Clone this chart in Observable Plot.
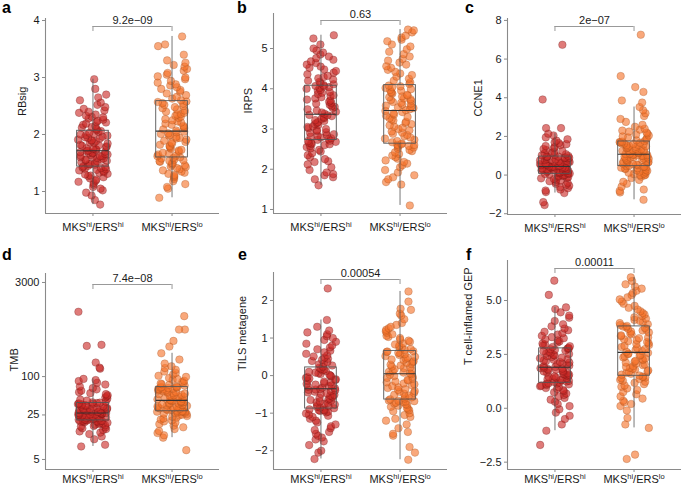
<!DOCTYPE html>
<html>
<head>
<meta charset="utf-8">
<script src="https://cdn.jsdelivr.net/npm/d3@7"></script>
<script src="https://cdn.jsdelivr.net/npm/@observablehq/plot@0.6"></script>
<style>
  html, body { margin: 0; padding: 0; background: #fff; }
  #fig { position: relative; width: 681px; height: 489px; overflow: hidden; font-family: 'Liberation Sans', Arial, Helvetica, sans-serif; }
  .letter { position: absolute; font-weight: bold; font-size: 16px; line-height: 16px; color: #000; }
  #fig svg { position: absolute; overflow: visible; }
</style>
</head>
<body>
<div id="fig"></div>
<script>
// ---------- data ----------
const groupLabels = ["MKS{hi}/ERS{hi}", "MKS{hi}/ERS{lo}"];
const panelLetters = ["a", "b", "c", "d", "e", "f"];
const yTitles = ["RBsig", "IRPS", "CCNE1", "TMB", "TILS metagene", "T cell-inflamed GEP"];
const pValues = ["9.2e\u221209", "0.63", "2e\u221207", "7.4e\u221208", "0.00054", "0.00011"];
const yTicksA = [1, 2, 3, 4];
const yTicksB = [1, 2, 3, 4, 5];
const yTicksC = [-2, 0, 2, 4, 6, 8];
const yTicksD = [5, 25, 100, 3000];
const yTicksE = [-2, -1, 0, 1, 2];
const yTicksF = [-2.5, 0, 2.5, 5];

const rbsigHiHi = [0.77,0.85,0.93,0.98,1.02,1.05,1.08,1.12,1.15,1.17,1.19,1.21,1.23,1.25,1.27,1.28,1.30,1.31,1.33,1.34,1.36,1.37,1.38,1.39,1.40,1.41,1.42,1.43,
  1.44,1.45,1.47,1.48,1.48,1.50,1.51,1.53,1.54,1.55,1.56,1.56,1.58,1.59,1.60,1.61,1.62,1.62,1.63,1.64,1.65,1.66,1.67,1.68,1.68,1.69,1.70,1.71,
  1.72,1.73,1.74,1.75,1.76,1.78,1.79,1.80,1.81,1.82,1.84,1.85,1.86,1.88,1.89,1.90,1.91,1.93,1.94,1.95,1.96,1.98,1.99,2.00,2.01,2.03,2.05,2.06,
  2.08,2.10,2.12,2.13,2.15,2.17,2.19,2.21,2.22,2.24,2.26,2.28,2.30,2.31,2.33,2.35,2.38,2.40,2.42,2.45,2.48,2.52,2.56,2.60,2.65,2.70,2.80,2.97];
const rbsigHiLo = [0.89,1.05,1.08,1.13,1.18,1.22,1.25,1.27,1.29,1.31,1.33,1.35,1.37,1.39,1.41,1.43,1.44,1.46,1.47,1.49,1.50,1.52,1.53,1.54,1.55,1.56,1.58,1.59,
  1.60,1.62,1.63,1.65,1.67,1.68,1.70,1.72,1.73,1.75,1.77,1.79,1.80,1.82,1.84,1.86,1.87,1.89,1.91,1.93,1.94,1.96,1.98,1.99,2.01,2.02,2.04,2.05,
  2.07,2.09,2.11,2.13,2.15,2.17,2.19,2.21,2.23,2.25,2.27,2.29,2.31,2.33,2.35,2.36,2.38,2.40,2.42,2.44,2.46,2.48,2.50,2.52,2.54,2.55,2.57,2.58,
  2.60,2.63,2.66,2.69,2.72,2.75,2.78,2.80,2.83,2.86,2.88,2.91,2.94,2.97,3.00,3.02,3.05,3.08,3.12,3.15,3.19,3.22,3.26,3.30,3.40,3.55,3.58,3.72];

const irpsHiHi = [1.60,1.75,1.80,1.85,1.88,1.92,1.98,2.05,2.12,2.18,2.20,2.25,2.30,2.35,2.40,2.44,2.48,2.52,2.55,2.58,2.60,2.62,2.63,2.65,2.66,2.68,2.70,2.71,
  2.73,2.75,2.77,2.79,2.81,2.83,2.85,2.87,2.90,2.92,2.95,2.97,3.00,3.02,3.05,3.07,3.10,3.12,3.15,3.17,3.20,3.22,3.25,3.27,3.30,3.32,3.34,3.35,
  3.38,3.41,3.43,3.46,3.49,3.52,3.55,3.57,3.60,3.63,3.65,3.68,3.71,3.73,3.76,3.79,3.82,3.84,3.87,3.90,3.92,3.95,3.97,4.00,4.02,4.04,4.06,4.07,
  4.09,4.11,4.14,4.17,4.20,4.23,4.26,4.29,4.32,4.36,4.40,4.44,4.48,4.52,4.55,4.60,4.64,4.68,4.72,4.76,4.80,4.85,4.90,4.95,5.00,5.10,5.25,5.33];
const irpsHiLo = [1.10,1.62,1.68,1.75,1.80,1.85,1.92,1.98,2.05,2.10,2.14,2.18,2.22,2.26,2.30,2.34,2.38,2.42,2.45,2.48,2.51,2.54,2.56,2.58,2.59,2.60,2.61,2.62,
  2.64,2.67,2.70,2.73,2.76,2.79,2.82,2.85,2.88,2.91,2.94,2.97,3.00,3.03,3.06,3.09,3.12,3.15,3.18,3.21,3.24,3.27,3.30,3.33,3.36,3.39,3.42,3.45,
  3.47,3.49,3.52,3.54,3.56,3.58,3.61,3.63,3.65,3.67,3.70,3.72,3.74,3.76,3.79,3.81,3.83,3.85,3.88,3.90,3.92,3.95,3.97,3.99,4.02,4.04,4.06,4.08,
  4.12,4.16,4.20,4.25,4.30,4.34,4.38,4.42,4.47,4.52,4.56,4.60,4.65,4.70,4.74,4.80,4.86,4.92,4.98,5.05,5.10,5.18,5.22,5.27,5.32,5.40,5.45,5.47];

const ccne1HiHi = [-1.55,-1.40,-0.93,-0.88,-0.80,-0.75,-0.68,-0.62,-0.55,-0.50,-0.45,-0.40,-0.36,-0.32,-0.28,-0.24,-0.20,-0.17,-0.14,-0.11,-0.08,-0.05,-0.03,-0.01,0.01,0.03,0.05,0.06,
  0.08,0.10,0.11,0.13,0.14,0.16,0.17,0.19,0.20,0.22,0.23,0.25,0.26,0.28,0.29,0.31,0.32,0.34,0.35,0.36,0.38,0.39,0.40,0.41,0.42,0.43,0.44,0.45,
  0.47,0.49,0.51,0.53,0.55,0.57,0.59,0.61,0.63,0.65,0.67,0.68,0.70,0.72,0.74,0.76,0.78,0.80,0.82,0.84,0.86,0.88,0.89,0.91,0.93,0.95,0.96,0.97,
  0.99,1.02,1.05,1.08,1.12,1.16,1.20,1.25,1.30,1.35,1.40,1.45,1.50,1.55,1.60,1.65,1.70,1.78,1.85,1.95,2.05,2.14,2.43,2.43,3.91,6.74];
const ccne1HiLo = [-1.28,-0.90,-0.82,-0.75,-0.60,-0.45,-0.35,-0.25,-0.15,-0.08,-0.02,0.00,0.02,0.05,0.08,0.12,0.15,0.18,0.22,0.25,0.28,0.31,0.34,0.36,0.38,0.40,0.42,0.44,
  0.47,0.50,0.52,0.55,0.57,0.60,0.62,0.65,0.67,0.70,0.72,0.74,0.77,0.79,0.81,0.84,0.86,0.88,0.90,0.92,0.94,0.96,0.98,1.00,1.02,1.03,1.05,1.06,
  1.09,1.11,1.14,1.16,1.19,1.21,1.24,1.26,1.29,1.31,1.34,1.36,1.39,1.41,1.44,1.46,1.49,1.51,1.54,1.56,1.59,1.61,1.63,1.65,1.67,1.69,1.71,1.73,
  1.76,1.80,1.85,1.90,1.95,2.00,2.05,2.10,2.15,2.20,2.25,2.30,2.35,2.40,2.50,2.60,2.75,2.90,3.05,3.20,3.35,3.52,3.75,3.86,4.30,4.55,5.12,7.26];

const tmbHiHi = [8,8.5,10.4,11.5,12.5,13.2,13.8,14.5,15,15.5,16,16.4,16.8,17.2,17.6,18,18.3,18.6,18.9,19.2,19.4,19.6,19.8,20,20.1,20.3,20.4,20.5,
  20.7,21,21.2,21.5,21.7,22,22.2,22.5,22.7,23,23.2,23.5,23.7,24,24.2,24.5,24.7,25,25.2,25.4,25.6,25.8,26,26.2,26.4,26.6,26.8,27,
  27.3,27.7,28,28.4,28.8,29.2,29.6,30,30.4,30.8,31.2,31.6,32,32.5,33,33.5,34,34.5,35,35.5,36,36.5,37,37.5,38,38.5,39,39.4,
  40.5,42,43.5,45,47,49,51,53,55,57,60,63,66,70,75,80,85,88,92,133,138,166,303,315,1040];
const tmbHiLo = [7,11,12,13,14,15,16,17,18,19,19.8,20.5,21.2,22,22.7,23.4,24,24.6,25.2,25.8,26.3,26.8,27.2,27.6,27.9,28.1,28.3,28.4,
  28.7,29.2,29.7,30.2,30.7,31.2,31.7,32.2,32.7,33.2,33.7,34.2,34.7,35.2,35.7,36.2,36.7,37.3,37.9,38.5,39,39.5,40,40.5,41,41.5,42,42.4,
  43,44,45,46,47,48,49,50,51,52,53,54,55,56,57,58,59,60,61,62,63,64,65,66,67,67.5,68,68.7,
  70,72,74,76,78,80,83,86,89,92,95,99,103,108,114,120,128,136,145,160,185,232,296,363,547,547,888];

const tilsHiHi = [-2.22,-2.05,-2.00,-1.85,-1.75,-1.70,-1.65,-1.60,-1.55,-1.50,-1.45,-1.40,-1.35,-1.30,-1.25,-1.20,-1.15,-1.10,-1.07,-1.04,-1.01,-0.98,-0.96,-0.94,-0.93,-0.92,-0.91,-0.90,
  -0.87,-0.85,-0.83,-0.81,-0.79,-0.77,-0.75,-0.73,-0.71,-0.69,-0.67,-0.65,-0.63,-0.61,-0.59,-0.57,-0.55,-0.53,-0.51,-0.49,-0.47,-0.45,-0.43,-0.41,-0.39,-0.38,-0.37,-0.36,
  -0.34,-0.32,-0.30,-0.28,-0.26,-0.24,-0.22,-0.20,-0.18,-0.16,-0.14,-0.12,-0.10,-0.08,-0.06,-0.04,-0.02,0.00,0.02,0.04,0.06,0.08,0.10,0.12,0.14,0.16,0.18,0.21,
  0.24,0.27,0.30,0.33,0.36,0.39,0.42,0.45,0.48,0.51,0.54,0.58,0.62,0.66,0.70,0.75,0.80,0.85,0.90,0.95,1.00,1.05,1.10,1.15,1.20,1.30,1.48,2.32];
const tilsHiLo = [-2.24,-2.05,-1.90,-1.60,-1.55,-1.50,-1.40,-1.30,-1.20,-1.15,-1.10,-1.05,-1.00,-0.95,-0.92,-0.89,-0.86,-0.83,-0.80,-0.78,-0.76,-0.74,-0.72,-0.70,-0.69,-0.68,-0.67,-0.66,
  -0.63,-0.61,-0.58,-0.56,-0.53,-0.51,-0.48,-0.46,-0.43,-0.41,-0.38,-0.36,-0.33,-0.31,-0.28,-0.26,-0.23,-0.21,-0.18,-0.16,-0.13,-0.11,-0.08,-0.06,-0.03,-0.01,0.02,0.04,
  0.06,0.08,0.10,0.13,0.15,0.17,0.20,0.22,0.24,0.27,0.29,0.31,0.34,0.36,0.38,0.41,0.43,0.45,0.48,0.50,0.52,0.55,0.57,0.59,0.61,0.63,0.64,0.65,
  0.68,0.71,0.74,0.77,0.80,0.83,0.86,0.90,0.93,0.96,1.00,1.03,1.06,1.10,1.14,1.18,1.22,1.26,1.30,1.35,1.40,1.50,1.60,1.65,1.75,1.78,1.97,2.24];

const gepHiHi = [-1.70,-1.04,-0.75,-0.50,-0.35,-0.20,-0.05,0.10,0.20,0.30,0.40,0.48,0.55,0.62,0.68,0.74,0.80,0.85,0.90,0.94,0.98,1.02,1.05,1.08,1.11,1.13,1.15,1.16,
  1.19,1.22,1.24,1.27,1.30,1.32,1.35,1.37,1.40,1.43,1.45,1.48,1.50,1.53,1.56,1.58,1.61,1.63,1.66,1.69,1.71,1.74,1.76,1.79,1.82,1.84,1.86,1.88,
  1.92,1.95,1.98,2.02,2.05,2.08,2.12,2.15,2.18,2.22,2.25,2.28,2.32,2.35,2.38,2.42,2.45,2.48,2.52,2.55,2.58,2.62,2.65,2.68,2.71,2.74,2.76,2.77,
  2.80,2.84,2.88,2.92,2.96,3.00,3.05,3.10,3.15,3.20,3.25,3.30,3.36,3.42,3.48,3.55,3.62,3.70,3.80,3.90,4.05,4.20,4.30,4.45,4.60,4.68,5.26,5.92];
const gepHiLo = [-2.35,-2.15,-0.91,-0.75,-0.45,-0.10,0.10,0.20,0.28,0.35,0.45,0.55,0.65,0.75,0.85,0.92,1.00,1.06,1.12,1.18,1.23,1.28,1.32,1.36,1.40,1.43,1.45,1.47,
  1.52,1.56,1.60,1.64,1.68,1.72,1.76,1.80,1.84,1.88,1.92,1.96,2.00,2.04,2.08,2.12,2.16,2.20,2.24,2.28,2.32,2.36,2.40,2.44,2.48,2.51,2.54,2.57,
  2.62,2.66,2.71,2.75,2.80,2.84,2.89,2.93,2.98,3.02,3.07,3.11,3.16,3.20,3.25,3.29,3.34,3.38,3.43,3.47,3.52,3.56,3.61,3.65,3.69,3.73,3.76,3.79,
  3.82,3.86,3.90,3.95,4.00,4.05,4.10,4.16,4.22,4.28,4.35,4.42,4.50,4.58,4.66,4.75,4.85,4.95,5.05,5.15,5.25,5.35,5.45,5.55,5.65,5.75,5.90,6.07];

// ---------- layout / style ----------
const FONT = "'Liberation Sans', Arial, Helvetica, sans-serif";
const COLORS = [
  {fill: "#cc2a26", stroke: "#5e100e"},
  {fill: "#f5722a", stroke: "#94461a"}
];
const AXIS = "#8a8a8a";
const BOX = "#555555";
const asText = d => String(d);
const minus = d => String(d).replace("-", "\u2212");

const panels = [
  {left: 0,   top: 0,   width: 225, height: 240, mL: 45, mR: 6, mT: 18, mB: 27, type: "linear", domain: [0.614, 4.035], ticks: yTicksA, fmt: asText, titleOff: 23, brk: 8, xPad: 7, hi: rbsigHiHi, lo: rbsigHiLo},
  {left: 225, top: 0,   width: 225, height: 240, mL: 48, mR: 3, mT: 13, mB: 27, type: "linear", domain: [0.90, 5.87], ticks: yTicksB, fmt: asText, titleOff: 25, brk: 7, xPad: 7, hi: irpsHiHi, lo: irpsHiLo},
  {left: 450, top: 0,   width: 231, height: 240, mL: 57, mR: 0, mT: 18, mB: 26, type: "linear", domain: [-2.04, 8.1], ticks: yTicksC, fmt: minus, titleOff: 29, brk: 8, xPad: 7, hi: ccne1HiHi, lo: ccne1HiLo},
  {left: 0,   top: 240, width: 225, height: 249, mL: 45, mR: 6, mT: 33, mB: 20, type: "log", domain: [3.48, 4150], ticks: yTicksD, fmt: asText, titleOff: 31, brk: 11, xPad: 3, hi: tmbHiHi, lo: tmbHiLo},
  {left: 225, top: 240, width: 225, height: 249, mL: 48, mR: 3, mT: 32, mB: 20, type: "linear", domain: [-2.50, 2.745], ticks: yTicksE, fmt: minus, titleOff: 31, brk: 7, xPad: 3, hi: tilsHiHi, lo: tilsHiLo},
  {left: 450, top: 240, width: 231, height: 249, mL: 57, mR: 0, mT: 20, mB: 20, type: "linear", domain: [-2.84, 6.855], ticks: yTicksF, fmt: d => minus(d.toFixed(1)), titleOff: 39, brk: 8, xPad: 3, hi: gepHiHi, lo: gepHiLo}
];

// deterministic horizontal jitter (position only)
function jitter(i, seed) {
  const s = Math.sin((i + 1) * 12.9898 + seed * 78.233) * 43758.5453;
  return (s - Math.floor(s)) * 2 - 1;
}

function boxStats(values, g, isLog) {
  const t = isLog ? v => Math.log10(v) : v => v;
  const inv = isLog ? v => Math.pow(10, v) : v => v;
  const s = values.map(t).sort(d3.ascending);
  const q1 = d3.quantile(s, 0.25), med = d3.quantile(s, 0.5), q3 = d3.quantile(s, 0.75);
  const iqr = q3 - q1;
  const lo = d3.min(s.filter(v => v >= q1 - 1.5 * iqr));
  const hi = d3.max(s.filter(v => v <= q3 + 1.5 * iqr));
  return {g, q1: inv(q1), med: inv(med), q3: inv(q3), lo: inv(lo), hi: inv(hi)};
}

function supify(svg) {
  svg.querySelectorAll("text").forEach(el => {
    const s = el.textContent;
    if (!s.includes("{")) return;
    el.textContent = "";
    const re = /([^{}]+)|\{([^}]+)\}/g;
    let m, raised = false;
    while ((m = re.exec(s))) {
      const ts = document.createElementNS("http://www.w3.org/2000/svg", "tspan");
      if (m[2] !== undefined) {
        ts.textContent = m[2];
        ts.setAttribute("font-size", "7.5px");
        ts.setAttribute("dy", "-4");
        raised = true;
      } else {
        ts.textContent = m[1];
        if (raised) { ts.setAttribute("dy", "4"); raised = false; }
      }
      el.appendChild(ts);
    }
  });
}

const fig = document.getElementById("fig");

panels.forEach((p, k) => {
  const isLog = p.type === "log";
  const rows = [];
  p.hi.forEach((v, i) => rows.push({g: 1, v, j: jitter(i, 1 + k * 2)}));
  p.lo.forEach((v, i) => rows.push({g: 2, v, j: jitter(i, 2 + k * 2)}));
  const stats = [boxStats(p.hi, 1, isLog), boxStats(p.lo, 2, isLog)];
  const top = p.domain[1];

  const svg = Plot.plot({
    width: p.width, height: p.height,
    marginLeft: p.mL, marginRight: p.mR, marginTop: p.mT, marginBottom: p.mB,
    style: {fontFamily: FONT, fontSize: "11px", color: "#1a1a1a", background: "transparent", overflow: "visible"},
    x: {type: "linear", domain: [0.4, 2.6], axis: null},
    y: {type: p.type, domain: p.domain, axis: null},
    marks: [
      Plot.dot(rows, {
        x: d => d.g + d.j * 0.19, y: "v", r: 3.8,
        fill: d => COLORS[d.g - 1].fill, stroke: d => COLORS[d.g - 1].stroke,
        fillOpacity: 0.62, strokeOpacity: 0.45, strokeWidth: 0.6
      }),
      Plot.ruleX(stats, {x: "g", y1: "lo", y2: "q1", stroke: BOX, strokeWidth: 0.8}),
      Plot.ruleX(stats, {x: "g", y1: "q3", y2: "hi", stroke: BOX, strokeWidth: 0.8}),
      Plot.rect(stats, {x1: d => d.g - 0.2, x2: d => d.g + 0.2, y1: "q1", y2: "q3", fill: "none", stroke: BOX, strokeWidth: 0.9}),
      Plot.ruleY(stats, {y: "med", x1: d => d.g - 0.2, x2: d => d.g + 0.2, stroke: "#333", strokeWidth: 1.1}),
      // axis lines
      Plot.ruleX([0.4], {stroke: AXIS, strokeWidth: 1.1}),
      Plot.ruleY([p.domain[0]], {stroke: AXIS, strokeWidth: 1.1}),
      // y ticks and labels
      Plot.ruleY(p.ticks, {y: d => d, x1: 0.4, x2: 0.4, insetLeft: -3, stroke: AXIS, strokeWidth: 1}),
      Plot.text(p.ticks, {y: d => d, x: 0.4, dx: -6, textAnchor: "end", text: p.fmt, fontSize: 11, fill: "#1a1a1a"}),
      // x ticks and labels
      Plot.axisX({ticks: [1, 2], tickFormat: d => groupLabels[d - 1], tickSize: 3, tickPadding: p.xPad, label: null, fontSize: 11, stroke: AXIS}),
      Plot.text([yTitles[k]], {frameAnchor: "left", rotate: -90, dx: -p.titleOff, text: d => d, fontSize: 11, fill: "#1a1a1a"}),
      // significance bracket
      Plot.ruleY([top], {x1: 1, x2: 2, dy: p.brk, stroke: "#999", strokeWidth: 1}),
      Plot.ruleX([1, 2], {y1: top, y2: top, dy: p.brk, insetBottom: -5, stroke: "#999", strokeWidth: 1}),
      Plot.text([pValues[k]], {x: 1.5, y: top, dy: p.brk - 6, text: d => d, fontSize: 11, fill: "#1a1a1a"})
    ]
  });
  svg.style.left = p.left + "px";
  svg.style.top = p.top + "px";
  supify(svg);
  fig.appendChild(svg);

  const L = document.createElement("div");
  L.className = "letter";
  L.textContent = panelLetters[k];
  L.style.left = [2, 237, 465, 2, 238, 466][k] + "px";
  L.style.top = [0, 0, 0, 247, 247, 247][k] + "px";
  fig.appendChild(L);
});
</script>
</body>
</html>
